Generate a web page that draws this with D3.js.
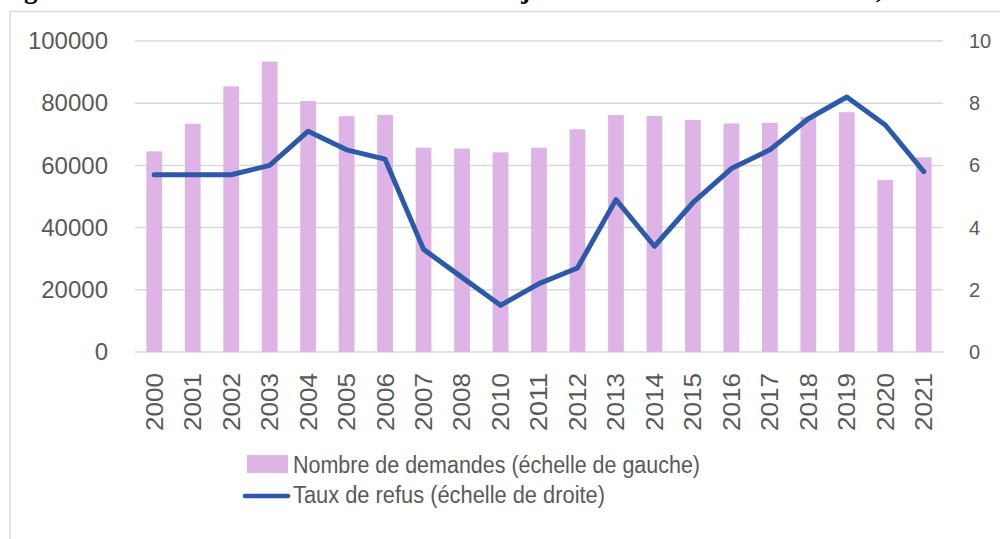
<!DOCTYPE html>
<html>
<head>
<meta charset="utf-8">
<script src="https://cdn.jsdelivr.net/npm/d3@7"></script>
<style>
  html, body { margin: 0; padding: 0; background: #fff; }
  svg { display: block; }
</style>
</head>
<body>
<script>
const years = ["2000","2001","2002","2003","2004","2005","2006","2007","2008","2010","2011",
               "2012","2013","2014","2015","2016","2017","2018","2019","2020","2021"];
const demandes = [64500, 73400, 85400, 93400, 80700, 75800, 76200, 65700, 65400, 64200, 65700,
                  71600, 76200, 75900, 74600, 73500, 73700, 75500, 77100, 55300, 62600];
const tauxRefus = [5.7, 5.7, 5.7, 6.0, 7.1, 6.5, 6.2, 3.3, 2.4, 1.5, 2.2,
                   2.7, 4.9, 3.4, 4.8, 5.9, 6.5, 7.5, 8.2, 7.3, 5.8];
const leftTicks = [0, 20000, 40000, 60000, 80000, 100000];
const rightTicks = [0, 2, 4, 6, 8, 10];
const legendLabels = ["Nombre de demandes (échelle de gauche)", "Taux de refus (échelle de droite)"];
const titleText = "Figure 1 : Nombre de demandes de titre de séjour et taux de refus en France, 2000-2021";

const W = 1000, H = 539;
const svg = d3.select("body").append("svg").attr("width", W).attr("height", H);
const font = "'Liberation Sans', Arial, sans-serif";
const textCol = "#595959";
const barCol = "#DEB3E6";
const lineCol = "#2C5AA8";
const gridCol = "#d9d9d9";

// title (cut off at top, as in the reference)
svg.append("text").attr("x", 0).attr("y", -2)
  .attr("font-family", "'Liberation Serif', 'Times New Roman', serif")
  .attr("font-weight", "bold").attr("font-size", 27).attr("fill", "#000")
  .text(titleText);

// frame
svg.append("rect").attr("x", 10).attr("y", 11.5).attr("width", 1100).attr("height", 700)
  .attr("fill", "none").attr("stroke", gridCol).attr("stroke-width", 1.5);

const x = d3.scaleBand().domain(years).range([135, 943]).paddingInner(0.59).paddingOuter(0.295);
const yL = d3.scaleLinear().domain([0, 100000]).range([352, 41]);
const yR = d3.scaleLinear().domain([0, 10]).range([352, 41]);

// gridlines
svg.append("g").selectAll("line").data(leftTicks).join("line")
  .attr("x1", 135).attr("x2", 943)
  .attr("y1", d => yL(d)).attr("y2", d => yL(d))
  .attr("stroke", gridCol).attr("stroke-width", 1.5);

// left axis
const axL = svg.append("g").attr("transform", "translate(108,0)")
  .call(d3.axisLeft(yL).tickValues(leftTicks).tickSize(0).tickPadding(0).tickFormat(d3.format("d")));
axL.select(".domain").remove();
axL.selectAll("text").attr("font-family", font).attr("font-size", 24).attr("fill", textCol);

// right axis
const axR = svg.append("g").attr("transform", "translate(969,0)")
  .call(d3.axisRight(yR).tickValues(rightTicks).tickSize(0).tickPadding(0).tickFormat(d3.format("d")));
axR.select(".domain").remove();
axR.selectAll("text").attr("font-family", font).attr("font-size", 20).attr("fill", textCol);

// bars
svg.append("g").selectAll("rect").data(years).join("rect")
  .attr("x", d => x(d)).attr("width", x.bandwidth())
  .attr("y", (d, i) => yL(demandes[i]))
  .attr("height", (d, i) => yL(0) - yL(demandes[i]))
  .attr("fill", barCol);

// line
const line = d3.line().x((d, i) => x(years[i]) + x.bandwidth() / 2).y(d => yR(d));
svg.append("path").datum(tauxRefus).attr("d", line)
  .attr("fill", "none").attr("stroke", lineCol).attr("stroke-width", 5)
  .attr("stroke-linejoin", "round").attr("stroke-linecap", "round");

// x axis
const axX = svg.append("g").attr("transform", "translate(0,373)")
  .call(d3.axisBottom(x).tickSize(0).tickPadding(0));
axX.select(".domain").remove();
axX.selectAll("text")
  .attr("font-family", font).attr("font-size", 24).attr("fill", textCol)
  .attr("transform", "rotate(-90)")
  .attr("text-anchor", "end").attr("x", 0).attr("y", 0).attr("dy", "0.35em")
  .attr("textLength", 58).attr("lengthAdjust", "spacingAndGlyphs");

// legend
const lg = svg.append("g");
lg.append("rect").attr("x", 247).attr("y", 455).attr("width", 41).attr("height", 18).attr("fill", barCol);
lg.append("line").attr("x1", 245).attr("x2", 288).attr("y1", 496).attr("y2", 496)
  .attr("stroke", lineCol).attr("stroke-width", 4.5).attr("stroke-linecap", "round");
lg.append("text").attr("x", 293).attr("y", 473).text(legendLabels[0])
  .attr("font-family", font).attr("font-size", 23).attr("fill", textCol)
  .attr("textLength", 407).attr("lengthAdjust", "spacingAndGlyphs");
lg.append("text").attr("x", 293).attr("y", 503).text(legendLabels[1])
  .attr("font-family", font).attr("font-size", 23).attr("fill", textCol)
  .attr("textLength", 312).attr("lengthAdjust", "spacingAndGlyphs");
</script>
</body>
</html>
